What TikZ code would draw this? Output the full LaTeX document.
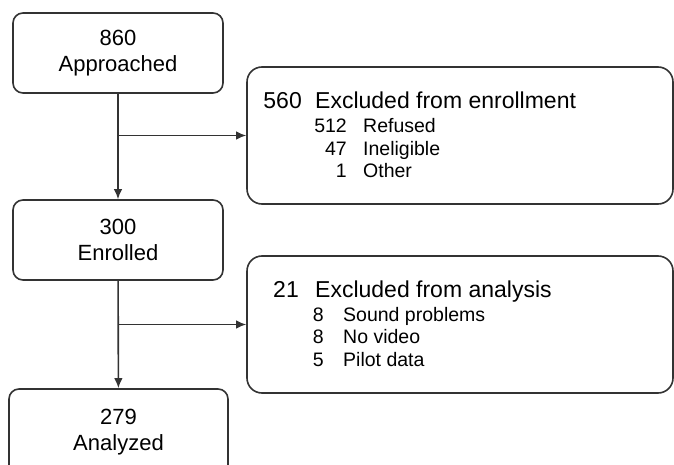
\documentclass[tikz,border=0pt]{standalone}
\usepackage{fontspec}
\setmainfont{Liberation Sans}
\usetikzlibrary{arrows.meta}

\begin{document}
\begin{tikzpicture}[x=1pt,y=-1pt,
    stage/.style={draw=black!80,line width=1.6pt,rounded corners=10pt,
      minimum width=210pt,minimum height=80pt,inner sep=0pt,
      align=center,font=\fontsize{22}{26.5}\selectfont},
    exclbox/.style={draw=black!80,line width=1.6pt,rounded corners=15pt,
      minimum width=426pt,minimum height=137pt,inner sep=0pt},
    head/.style={inner sep=0pt,font=\fontsize{23}{28}\selectfont},
    item/.style={inner sep=0pt,font=\fontsize{19.5}{23}\selectfont},
    flow/.style={draw=black!80,line width=1.6pt,-{Latex[length=10pt,width=8.5pt]}}]
    \clip (0,0) rectangle (674,465);

    \node[stage] (approached) at (118,53) {860\\Approached};
    \node[stage] (enrolled) at (118,240) {300\\Enrolled};
    \node[stage,minimum width=219pt,minimum height=86pt] (analyzed) at (118.5,432) {279\\Analyzed};

    \node[exclbox] (exenroll) at (460,135.5) {};
    \node[exclbox] (exanalysis) at (460,324.5) {};

    \node[head,anchor=base east] (n560) at (302,109) {560};
    \node[head,anchor=base west] (t560) at (315,109) {Excluded from enrollment};
    \foreach \n/\t/\y [count=\i] in {512/Refused/133,47/Ineligible/156,1/Other/178}{
      \node[item,anchor=base east] (enum\i) at (347,\y) {\n};
      \node[item,anchor=base west] (etxt\i) at (363,\y) {\t};
    }

    \node[head,anchor=base east] (n21) at (299,297) {21};
    \node[head,anchor=base west] (t21) at (315,297) {Excluded from analysis};
    \foreach \n/\t/\y [count=\i] in {8/Sound problems/321,8/No video/343,5/Pilot data/366}{
      \node[item,anchor=base east] (anum\i) at (324,\y) {\n};
      \node[item,anchor=base west] (atxt\i) at (343,\y) {\t};
    }

    \coordinate (split1) at (approached.south |- exenroll.west);
    \coordinate (split2) at (enrolled.south |- exanalysis.west);
    \draw[flow] (approached) -- (enrolled);
    \draw[flow] (split1) -- (exenroll);
    \draw[flow] (enrolled) -- (analyzed);
    \draw[flow] (split2) -- (exanalysis);
\end{tikzpicture}
\end{document}
